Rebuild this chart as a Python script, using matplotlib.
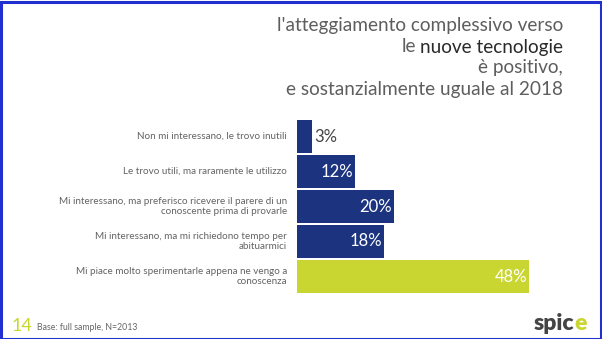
import matplotlib.pyplot as plt
from matplotlib.patches import Rectangle

# data
labels = ['Non mi interessano, le trovo inutili',
          'Le trovo utili, ma raramente le utilizzo',
          'Mi interessano, ma preferisco ricevere il parere di un\nconoscente prima di provarle',
          'Mi interessano, ma mi richiedono tempo per\nabituarmici',
          'Mi piace molto sperimentarle appena ne vengo a\nconoscenza']
values = [3, 12, 20, 18, 48]
colors = ['#1c3380', '#1c3380', '#1c3380', '#1c3380', '#c9d631']

plt.rcParams['font.family'] = ['Lato', 'DejaVu Sans']

W, H = 602, 339
fig = plt.figure(figsize=(W / 100, H / 100), dpi=100)
fig.patch.set_facecolor('white')

# axes placed in pixel terms
x0, x1 = 297, 529
y_top, y_bot = 119, 294
ax = fig.add_axes([x0 / W, 1 - y_bot / H, (x1 - x0) / W, (y_bot - y_top) / H])
ax.set_xlim(0, 48)
ax.set_ylim(len(values) - 0.5, -0.5)
ax.axis('off')

ypos = list(range(len(values)))
ax.barh(ypos, values, height=0.92, color=colors)

for i, (lab, v) in enumerate(zip(labels, values)):
    ax.text(-2.1, i, lab, ha='right', va='center', fontsize=7.1, color='#636363',
            linespacing=1.1)
    if v < 6:
        ax.text(v + 0.6, i, f'{v}%', ha='left', va='center', fontsize=12,
                color='#444444')
    else:
        ax.text(v - 0.4, i, f'{v}%', ha='right', va='center', fontsize=12,
                color='white')

# title
tx = 563 / W
tsize = 13.7
tcol = '#5e5e5e'
fig.text(tx, 1 - 25 / H, "l'atteggiamento complessivo verso", ha='right', va='center',
         fontsize=tsize, color=tcol)
t2 = fig.text(tx, 1 - 47 / H, 'nuove tecnologie', ha='right', va='center',
              fontsize=tsize, color='#2a2a2a')
fig.canvas.draw()
bb = t2.get_window_extent(fig.canvas.get_renderer())
fig.text(bb.x0 / W - 0.006, 1 - 47 / H, 'le', ha='right', va='center',
         fontsize=tsize, color=tcol)
fig.text(tx, 1 - 68 / H, 'è positivo,', ha='right', va='center',
         fontsize=tsize, color=tcol)
fig.text(tx, 1 - 89 / H, 'e sostanzialmente uguale al 2018', ha='right', va='center',
         fontsize=tsize, color=tcol)

# footer
fig.text(12 / W, 1 - 326 / H, '14', ha='left', va='center', fontsize=13,
         color='#c9d631')
fig.text(37 / W, 1 - 327 / H, 'Base: full sample, N=2013', ha='left', va='center',
         fontsize=6.3, color='#666666')
fig.text(574 / W, 1 - 324 / H, 'spic', ha='right', va='center', fontsize=16.5,
         color='#444444', fontweight='heavy')
fig.text(574 / W, 1 - 324 / H, 'e', ha='left', va='center', fontsize=16.5,
         color='#c9d631', fontweight='heavy')

# screenshot border
fig.patches.append(Rectangle((0.5 / W, 0.5 / H), 1 - 2 / W, 1 - 2 / H,
                             transform=fig.transFigure, fill=False,
                             edgecolor='#1f2fd0', linewidth=2.2))

fig.savefig('out.png', dpi=100)
